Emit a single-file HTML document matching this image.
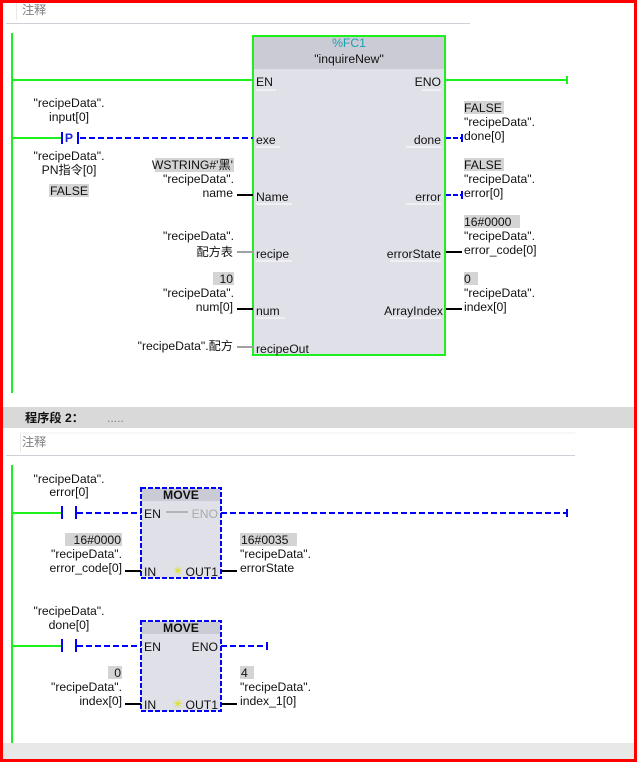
<!DOCTYPE html>
<html><head><meta charset="utf-8"><style>
html,body{margin:0;padding:0;width:638px;height:763px;overflow:hidden;background:#fff}
svg{display:block}
text{font-family:"Liberation Sans","Noto Sans CJK SC",sans-serif;font-size:12.2px;fill:#111}
.b{font-weight:bold}
.g{fill:#808080}
</style></head><body>
<svg width="638" height="763" viewBox="0 0 638 763" xmlns="http://www.w3.org/2000/svg">
<rect x="0" y="0" width="638" height="763" fill="#fff"/>
<line x1="16.5" y1="2" x2="16.5" y2="20" stroke="#e8e8e8"/>
<text x="22" y="14" class="g" font-size="12.5">注释</text>
<line x1="6" y1="23.5" x2="470" y2="23.5" stroke="#d0d0d8"/>
<rect x="11" y="33" width="2" height="360" fill="#1ef01e"/>
<rect x="253" y="36" width="192" height="319" fill="#e0e0e8" stroke="#1ef01e" stroke-width="2"/>
<rect x="254" y="37" width="190" height="32" fill="#cbcbd6"/>
<text x="349" y="47" text-anchor="middle" style="fill:#1aa0b0">%FC1</text>
<text x="349" y="63" text-anchor="middle">"inquireNew"</text>
<g>
<text x="256" y="86">EN</text><text x="441" y="86" text-anchor="end">ENO</text>
<text x="256" y="144">exe</text><text x="441" y="144" text-anchor="end">done</text>
<text x="256" y="201">Name</text><text x="441" y="201" text-anchor="end">error</text>
<text x="256" y="258">recipe</text><text x="441" y="258" text-anchor="end">errorState</text>
<text x="256" y="315">num</text><text x="443" y="315" text-anchor="end">ArrayIndex</text>
<text x="256" y="353">recipeOut</text>
</g>
<g stroke="#fff" stroke-width="1">
<line x1="256" y1="90" x2="276" y2="90"/><line x1="422" y1="90" x2="441" y2="90"/>
<line x1="256" y1="147" x2="280" y2="147"/><line x1="256" y1="204" x2="292" y2="204"/>
<line x1="256" y1="261" x2="292" y2="261"/><line x1="256" y1="318" x2="285" y2="318"/>
<line x1="406" y1="147" x2="441" y2="147"/><line x1="406" y1="204" x2="441" y2="204"/>
<line x1="390" y1="261" x2="441" y2="261"/><line x1="390" y1="318" x2="441" y2="318"/>
</g>
<rect x="13" y="79" width="240" height="2" fill="#1ef01e"/>
<rect x="446" y="79" width="121" height="2" fill="#1ef01e"/>
<rect x="566" y="76" width="2" height="8" fill="#1ef01e"/>
<rect x="13" y="137" width="49" height="2" fill="#1ef01e"/>
<rect x="61" y="132" width="2" height="12" fill="#0000ff"/>
<rect x="77" y="132" width="2" height="12" fill="#0000ff"/>
<text x="69" y="142" text-anchor="middle" class="b" style="fill:#2020e0" font-size="10">P</text>
<line x1="80" y1="138" x2="253" y2="138" stroke="#0000ff" stroke-width="2" stroke-dasharray="6,3"/>
<text x="69" y="107" text-anchor="middle">"recipeData".</text>
<text x="69" y="121" text-anchor="middle">input[0]</text>
<text x="69" y="160" text-anchor="middle">"recipeData".</text>
<text x="69" y="174" text-anchor="middle">PN指令[0]</text>
<rect x="49" y="184" width="40" height="13" fill="#d4d4d4"/>
<text x="69" y="195" text-anchor="middle">FALSE</text>
<rect x="155" y="158" width="79" height="14" fill="#d4d4d4"/>
<text x="233" y="169" text-anchor="end">WSTRING#'黑'</text>
<text x="234" y="183" text-anchor="end">"recipeData".</text>
<text x="233" y="197" text-anchor="end">name</text>
<line x1="237" y1="195" x2="253" y2="195" stroke="#000" stroke-width="2"/>
<text x="234" y="240" text-anchor="end">"recipeData".</text>
<text x="233" y="256" text-anchor="end">配方表</text>
<line x1="237" y1="252" x2="253" y2="252" stroke="#a0a0a0" stroke-width="2"/>
<rect x="213" y="272" width="21" height="13" fill="#d4d4d4"/>
<text x="233" y="283" text-anchor="end">10</text>
<text x="234" y="297" text-anchor="end">"recipeData".</text>
<text x="233" y="311" text-anchor="end">num[0]</text>
<line x1="237" y1="309" x2="253" y2="309" stroke="#000" stroke-width="2"/>
<text x="233" y="350" text-anchor="end">"recipeData".配方</text>
<line x1="237" y1="347" x2="253" y2="347" stroke="#a0a0a0" stroke-width="2"/>
<line x1="446" y1="138" x2="462" y2="138" stroke="#0000ff" stroke-width="2" stroke-dasharray="5,2"/>
<rect x="461" y="134" width="2" height="8" fill="#0000ff"/>
<line x1="446" y1="195" x2="462" y2="195" stroke="#0000ff" stroke-width="2" stroke-dasharray="5,2"/>
<rect x="461" y="191" width="2" height="8" fill="#0000ff"/>
<line x1="446" y1="252" x2="462" y2="252" stroke="#000" stroke-width="2"/>
<line x1="446" y1="309" x2="462" y2="309" stroke="#000" stroke-width="2"/>
<rect x="464" y="101" width="40" height="13" fill="#d4d4d4"/><text x="464" y="112">FALSE</text>
<text x="464" y="126">"recipeData".</text><text x="464" y="140">done[0]</text>
<rect x="464" y="158" width="40" height="13" fill="#d4d4d4"/><text x="464" y="169">FALSE</text>
<text x="464" y="183">"recipeData".</text><text x="464" y="197">error[0]</text>
<rect x="464" y="215" width="56" height="13" fill="#d4d4d4"/><text x="464" y="226">16#0000</text>
<text x="464" y="240">"recipeData".</text><text x="464" y="254">error_code[0]</text>
<rect x="464" y="272" width="14" height="13" fill="#d4d4d4"/><text x="464" y="283">0</text>
<text x="464" y="297">"recipeData".</text><text x="464" y="311">index[0]</text>
<rect x="3" y="407" width="632" height="21" fill="#d9d9d9"/>
<text x="25" y="422" class="b" font-size="13">程序段 2：</text>
<text x="107" y="422" class="g" font-size="9">.....</text>
<line x1="20.5" y1="433" x2="20.5" y2="452" stroke="#e8e8e8"/>
<line x1="20" y1="433" x2="575" y2="433" stroke="#f0f0f0"/>
<text x="22" y="446" class="g" font-size="12.5">注释</text>
<line x1="6" y1="455.5" x2="575" y2="455.5" stroke="#d0d0d8"/>
<rect x="11" y="465" width="2" height="278" fill="#1ef01e"/>
<rect x="3" y="743" width="632" height="16" fill="#e8e8e8"/>
<text x="69" y="483" text-anchor="middle">"recipeData".</text>
<text x="69" y="496" text-anchor="middle">error[0]</text>
<rect x="13" y="512" width="50" height="2" fill="#1ef01e"/>
<rect x="61" y="506" width="2" height="13" fill="#0000ff"/>
<rect x="75" y="506" width="2" height="13" fill="#0000ff"/>
<line x1="77" y1="513" x2="141" y2="513" stroke="#0000ff" stroke-width="2" stroke-dasharray="6,3"/>
<rect x="141" y="488" width="80" height="90" fill="#e0e0e8" stroke="#0000ff" stroke-width="2" stroke-dasharray="5,2"/>
<rect x="142" y="489" width="78" height="12" fill="#cbcbd6"/>
<text x="181" y="499" text-anchor="middle" class="b">MOVE</text>
<text x="144" y="518">EN</text>
<line x1="166" y1="512" x2="188" y2="512" stroke="#888"/>
<text x="218" y="518" text-anchor="end" style="fill:#aaa">ENO</text>
<line x1="221" y1="513" x2="567" y2="513" stroke="#0000ff" stroke-width="2" stroke-dasharray="6,3"/>
<rect x="566" y="509" width="2" height="8" fill="#0000ff"/>
<text x="144" y="576">IN</text>
<text x="178" y="575" text-anchor="middle" style="fill:#e0e000" font-size="10">✳</text>
<text x="218" y="576" text-anchor="end">OUT1</text>
<rect x="65" y="533" width="57" height="13" fill="#d4d4d4"/>
<text x="121" y="544" text-anchor="end">16#0000</text>
<text x="122" y="558" text-anchor="end">"recipeData".</text>
<text x="122" y="572" text-anchor="end">error_code[0]</text>
<line x1="125" y1="571" x2="141" y2="571" stroke="#000" stroke-width="2"/>
<line x1="221" y1="571" x2="237" y2="571" stroke="#000" stroke-width="2"/>
<rect x="240" y="533" width="57" height="13" fill="#d4d4d4"/>
<text x="241" y="544">16#0035</text>
<text x="240" y="558">"recipeData".</text>
<text x="240" y="572">errorState</text>
<text x="69" y="615" text-anchor="middle">"recipeData".</text>
<text x="69" y="629" text-anchor="middle">done[0]</text>
<rect x="13" y="645" width="50" height="2" fill="#1ef01e"/>
<rect x="61" y="639" width="2" height="13" fill="#0000ff"/>
<rect x="75" y="639" width="2" height="13" fill="#0000ff"/>
<line x1="77" y1="646" x2="141" y2="646" stroke="#0000ff" stroke-width="2" stroke-dasharray="6,3"/>
<rect x="141" y="621" width="80" height="90" fill="#e0e0e8" stroke="#0000ff" stroke-width="2" stroke-dasharray="5,2"/>
<rect x="142" y="622" width="78" height="12" fill="#cbcbd6"/>
<text x="181" y="632" text-anchor="middle" class="b">MOVE</text>
<text x="144" y="651">EN</text>
<text x="218" y="651" text-anchor="end">ENO</text>
<line x1="221" y1="646" x2="267" y2="646" stroke="#0000ff" stroke-width="2" stroke-dasharray="6,3"/>
<rect x="266" y="642" width="2" height="8" fill="#0000ff"/>
<text x="144" y="709">IN</text>
<text x="178" y="708" text-anchor="middle" style="fill:#e0e000" font-size="10">✳</text>
<text x="218" y="709" text-anchor="end">OUT1</text>
<rect x="108" y="666" width="14" height="13" fill="#d4d4d4"/>
<text x="121" y="677" text-anchor="end">0</text>
<text x="122" y="691" text-anchor="end">"recipeData".</text>
<text x="122" y="705" text-anchor="end">index[0]</text>
<line x1="125" y1="704" x2="141" y2="704" stroke="#000" stroke-width="2"/>
<line x1="221" y1="704" x2="237" y2="704" stroke="#000" stroke-width="2"/>
<rect x="240" y="666" width="14" height="13" fill="#d4d4d4"/>
<text x="241" y="677">4</text>
<text x="240" y="691">"recipeData".</text>
<text x="240" y="705">index_1[0]</text>
<rect x="1.5" y="1.5" width="634" height="759" fill="none" stroke="#ff0000" stroke-width="3"/>
</svg>
</body></html>
